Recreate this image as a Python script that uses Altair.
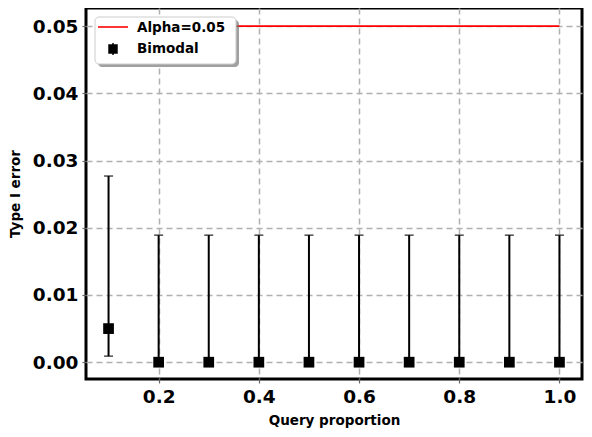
import altair as alt
import pandas as pd

query_prop = [0.1, 0.2, 0.3, 0.4, 0.5, 0.6, 0.7, 0.8, 0.9, 1.0]
type1_err = [0.005, 0, 0, 0, 0, 0, 0, 0, 0, 0]
err_low = [0.0009, 0, 0, 0, 0, 0, 0, 0, 0, 0]
err_high = [0.0277, 0.0189, 0.0189, 0.0189, 0.0189, 0.0189, 0.0189, 0.0189, 0.0189, 0.0189]
alpha_x = [0.1, 1.0]
alpha_y = [0.05, 0.05]

df = pd.DataFrame({"x": query_prop, "y": type1_err, "lo": err_low, "hi": err_high})
adf = pd.DataFrame({"x": alpha_x, "y": alpha_y})

xs = alt.Scale(domain=[0.055, 1.045], nice=False, zero=False)
ys = alt.Scale(domain=[-0.0025, 0.0527], nice=False, zero=False)

xax = alt.Axis(values=[0.2, 0.4, 0.6, 0.8, 1.0], format=".1f", title="Query proportion")
yax = alt.Axis(values=[0, 0.01, 0.02, 0.03, 0.04, 0.05], format=".2f", title="Type I error")

base = alt.Chart(df)

grid_layer = base.mark_point(opacity=0).encode(
    x=alt.X("x:Q", scale=xs, axis=xax),
    y=alt.Y("y:Q", scale=ys, axis=yax),
)

alpha_line = alt.Chart(adf).mark_line(color="#ff0000", strokeWidth=1.6).encode(
    x=alt.X("x:Q", scale=xs), y=alt.Y("y:Q", scale=ys)
)

rules = base.mark_rule(color="black", strokeWidth=2).encode(
    x=alt.X("x:Q", scale=xs), y=alt.Y("lo:Q", scale=ys), y2="hi:Q"
)
cap_hi = base.mark_tick(color="black", orient="horizontal", size=9, thickness=1.5).encode(
    x=alt.X("x:Q", scale=xs), y=alt.Y("hi:Q", scale=ys)
)
cap_lo = base.mark_tick(color="black", orient="horizontal", size=9, thickness=1.5).encode(
    x=alt.X("x:Q", scale=xs), y=alt.Y("lo:Q", scale=ys)
)
squares = base.mark_square(color="black", size=115, opacity=1).encode(
    x=alt.X("x:Q", scale=xs), y=alt.Y("y:Q", scale=ys)
)

one = alt.Chart(pd.DataFrame({"a": [0]}))
shadow = one.mark_rect(color="#777777", opacity=0.7, cornerRadius=4).encode(
    x=alt.value(12), x2=alt.value(153), y=alt.value(12), y2=alt.value(59)
)
box = one.mark_rect(fill="white", stroke="#cccccc", strokeWidth=1, cornerRadius=4).encode(
    x=alt.value(9), x2=alt.value(150), y=alt.value(9), y2=alt.value(56)
)
leg_line = one.mark_rule(color="#ff0000", strokeWidth=1.6).encode(
    x=alt.value(12), x2=alt.value(42), y=alt.value(19)
)
leg_sq = one.mark_square(color="black", size=90, opacity=1).encode(
    x=alt.value(27), y=alt.value(41)
)
leg_err = one.mark_rule(color="black", strokeWidth=1.5).encode(
    x=alt.value(27), y=alt.value(35), y2=alt.value(47)
)
leg_t1 = one.mark_text(text="Alpha=0.05", align="left", baseline="middle", fontSize=13.5,
                       fontWeight="bold", font="DejaVu Sans", color="black").encode(
    x=alt.value(51), y=alt.value(20)
)
leg_t2 = one.mark_text(text="Bimodal", align="left", baseline="middle", fontSize=13.5,
                       fontWeight="bold", font="DejaVu Sans", color="black").encode(
    x=alt.value(51), y=alt.value(41)
)

chart = alt.layer(
    grid_layer, alpha_line, rules, cap_hi, cap_lo, squares,
    shadow, box, leg_line, leg_err, leg_sq, leg_t1, leg_t2
).properties(
    width=496, height=371,
    autosize=alt.AutoSizeParams(type="none"),
    padding={"left": 78, "top": 0, "right": 2, "bottom": 50},
).configure_view(
    stroke="black", strokeWidth=3
).configure_axis(
    grid=True, gridColor="#b0b0b0", gridDash=[6, 4], gridWidth=1.5,
    domain=False, tickColor="#666666", tickSize=4, tickWidth=1.2,
    labelFont="DejaVu Sans", labelFontWeight="bold", labelFontSize=18.5, labelColor="black",
    titleFont="DejaVu Sans", titleFontWeight="bold", titleFontSize=13.5, titleColor="black",
    labelPadding=4,
).configure_axisX(titlePadding=8).configure_axisY(titlePadding=10)

chart.save("out.html", embed_options={"renderer": "svg", "actions": False})
